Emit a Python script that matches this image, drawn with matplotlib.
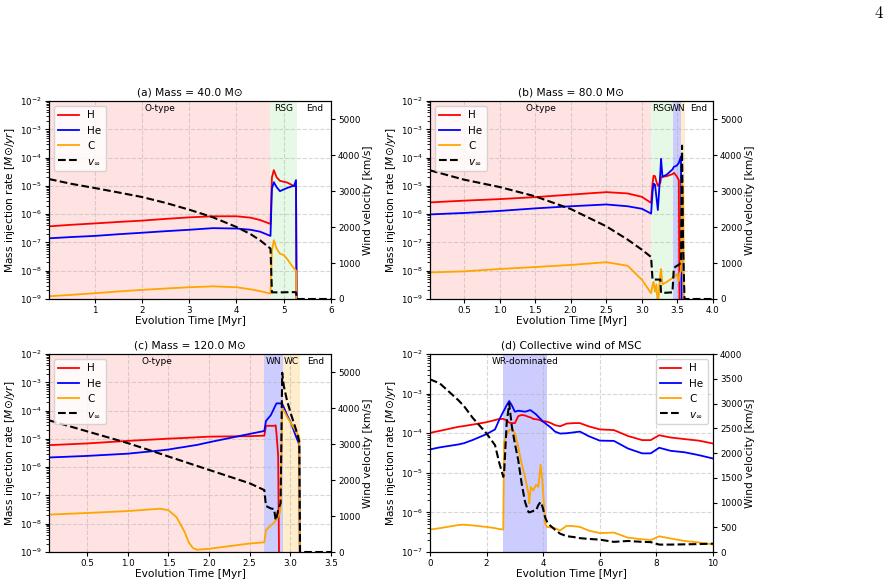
import matplotlib
matplotlib.use('Agg')
import matplotlib.pyplot as plt

# ---- data ------------------------------------------------------------------
# (a) 40 Msun
t_a = [0.03, 0.5, 1.0, 1.5, 2.0, 2.5, 3.0, 3.5, 4.0, 4.3, 4.5, 4.72, 4.75, 4.79,
       4.85, 4.92, 5.0, 5.08, 5.16, 5.22, 5.26, 5.28, 5.3, 6.0]
H_a = [3.7e-7, 4.2e-7, 4.7e-7, 5.3e-7, 5.9e-7, 6.8e-7, 7.7e-7, 8.4e-7, 8.4e-7, 7.5e-7,
       6.2e-7, 4.5e-7, 2.0e-5, 3.6e-5, 2.0e-5, 1.5e-5, 1.4e-5, 1.3e-5, 1.1e-5, 1.0e-5,
       9.5e-6, 1e-12, 1e-12, 1e-12]
He_a = [1.4e-7, 1.55e-7, 1.7e-7, 1.95e-7, 2.2e-7, 2.5e-7, 2.8e-7, 3.2e-7, 3.1e-7, 2.8e-7,
        2.4e-7, 1.7e-7, 8e-6, 1.35e-5, 9e-6, 6.5e-6, 7.5e-6, 8.5e-6, 9.5e-6, 1.0e-5,
        1.6e-5, 1e-12, 1e-12, 1e-12]
C_a = [1.25e-9, 1.4e-9, 1.6e-9, 1.85e-9, 2.1e-9, 2.35e-9, 2.6e-9, 2.8e-9, 2.6e-9, 2.2e-9,
       1.9e-9, 1.55e-9, 5e-8, 1.2e-7, 6e-8, 4e-8, 3.6e-8, 2.5e-8, 1.6e-8, 1.2e-8,
       1e-8, 1e-12, 1e-12, 1e-12]
v_a = [3333, 3200, 3083, 2960, 2833, 2670, 2481, 2270, 2000, 1800, 1630, 1400, 185, 185,
       185, 185, 185, 190, 190, 190, 185, 0, 0, 0]
phases_a = [('O-type', 0.03, 4.71), ('RSG', 4.71, 5.29), ('End', 5.29, 6.0)]

# (b) 80 Msun
t_b = [0.02, 0.5, 1.0, 1.5, 2.0, 2.5, 2.8, 3.0, 3.13, 3.15, 3.165, 3.185, 3.205, 3.225,
       3.26, 3.27, 3.29, 3.35, 3.43, 3.45, 3.49, 3.52, 3.535, 3.55, 3.565, 3.58, 3.6,
       3.62, 4.0]
H_b = [2.6e-6, 3.0e-6, 3.4e-6, 4.0e-6, 4.9e-6, 6.0e-6, 5.4e-6, 4.1e-6, 2.5e-6, 1.2e-5,
       2.3e-5, 2.2e-5, 1.4e-5, 1.0e-5, 1.3e-5, 1.9e-5, 2.1e-5, 2.2e-5, 2.6e-5, 2.9e-5,
       2.2e-5, 1.6e-5, 1e-12, 1e-12, 1e-12, 1e-12, 1e-12, 1e-12, 1e-12]
He_b = [9.8e-7, 1.1e-6, 1.3e-6, 1.6e-6, 1.9e-6, 2.2e-6, 1.9e-6, 1.55e-6, 1.05e-6, 6e-6,
        1.2e-5, 1.1e-5, 4e-6, 1.4e-6, 3e-5, 9e-5, 2.1e-5, 2.5e-5, 3.8e-5, 4.7e-5,
        5.2e-5, 6.5e-5, 8.5e-5, 1.1e-4, 1e-12, 1e-12, 1e-12, 1e-12, 1e-12]
C_b = [8.7e-9, 9.5e-9, 1.15e-8, 1.35e-8, 1.6e-8, 2.0e-8, 1.5e-8, 4.8e-9, 1.6e-9, 3e-9,
       4e-9, 1.8e-9, 3.3e-9, 5e-10, 8e-9, 1.15e-8, 3.3e-9, 4e-9, 5.5e-9, 6e-9,
       7.5e-9, 4.3e-9, 8e-9, 1e-8, 2e-5, 5e-6, 1e-12, 1e-12, 1e-12]
v_b = [3574, 3315, 3111, 2852, 2500, 2019, 1650, 1370, 1167, 540, 540, 540, 540, 540,
       540, 170, 170, 175, 185, 860, 920, 950, 980, 1000, 4260, 1500, 0, 0, 0]
phases_b = [('O-type', 0.02, 3.13), ('RSG', 3.13, 3.44), ('WN', 3.44, 3.55),
            ('WC', 3.55, 3.61), ('End', 3.61, 4.0)]

# (c) 120 Msun
t_c = [0.03, 0.5, 1.0, 1.4, 1.5, 1.6, 1.7, 1.75, 1.8, 1.85, 2.0, 2.5, 2.68, 2.7, 2.76,
       2.8, 2.82, 2.83, 2.85, 2.87, 2.88, 2.9, 2.92, 2.96, 3.01, 3.07, 3.11, 3.12, 3.14, 3.5]
H_c = [6e-6, 6.9e-6, 8.5e-6, 9.8e-6, 1.02e-5, 1.05e-5, 1.08e-5, 1.1e-5, 1.12e-5, 1.14e-5,
       1.2e-5, 1.25e-5, 1.3e-5, 2.9e-5, 2.9e-5, 2.9e-5, 3.0e-5, 1.5e-5, 2.6e-6, 1e-12,
       1e-12, 1e-12, 1e-12, 1e-12, 1e-12, 1e-12, 1e-12, 1e-12, 1e-12, 1e-12]
He_c = [2.2e-6, 2.5e-6, 3.0e-6, 3.9e-6, 4.2e-6, 4.7e-6, 5.2e-6, 5.5e-6, 5.8e-6, 6.1e-6,
        7.6e-6, 1.5e-5, 1.9e-5, 4.3e-5, 6.9e-5, 1.2e-4, 1.6e-4, 1.8e-4, 1.8e-4, 1.8e-4,
        1.8e-4, 1.75e-4, 1.3e-4, 6.9e-5, 3.5e-5, 1.2e-5, 6.3e-6, 1e-12, 1e-12, 1e-12]
C_c = [2.1e-8, 2.4e-8, 2.8e-8, 3.4e-8, 3.0e-8, 1.7e-8, 5.1e-9, 2.2e-9, 1.4e-9, 1.2e-9,
       1.3e-9, 2.0e-9, 2.2e-9, 5.9e-9, 8.7e-9, 1.1e-8, 1.3e-8, 1.5e-8, 1.8e-8, 2.4e-8,
       3.4e-8, 1.2e-4, 1.0e-4, 6e-5, 3.5e-5, 1.8e-5, 1.2e-5, 1e-12, 1e-12, 1e-12]
v_c = [3659, 3352, 3026, 2730, 2653, 2580, 2505, 2468, 2430, 2393, 2281, 1909, 1720, 1280,
       1210, 1192, 885, 950, 1160, 1300, 1350, 4980, 4608, 4200, 3817, 3398, 3072, 0, 0, 0]
phases_c = [('O-type', 0.03, 2.68), ('WN', 2.68, 2.91), ('WC', 2.91, 3.12), ('End', 3.12, 3.5)]

# (d) collective wind
t_d = [0.0, 0.35, 1.0, 1.2, 1.5, 2.0, 2.3, 2.45, 2.59, 2.62, 2.71, 2.8, 2.89, 3.0, 3.12,
       3.24, 3.36, 3.48, 3.51, 3.56, 3.65, 3.75, 3.83, 3.91, 3.98, 4.07, 4.13, 4.24, 4.42,
       4.6, 4.83, 5.07, 5.3, 5.6, 6.0, 6.5, 7.0, 7.5, 7.8, 8.1, 8.5, 9.0, 9.5, 10.0]
H_d = [1.02e-4, 1.15e-4, 1.45e-4, 1.52e-4, 1.65e-4, 1.9e-4, 2.15e-4, 2.3e-4, 2.3e-4, 2.25e-4,
       2.1e-4, 1.85e-4, 1.8e-4, 1.8e-4, 2.7e-4, 2.9e-4, 2.8e-4, 2.6e-4, 2.55e-4, 2.5e-4,
       2.3e-4, 2.25e-4, 2.2e-4, 2.1e-4, 2.0e-4, 2.0e-4, 1.95e-4, 1.85e-4, 1.6e-4, 1.5e-4,
       1.75e-4, 1.8e-4, 1.8e-4, 1.5e-4, 1.25e-4, 1.2e-4, 8.5e-5, 6.7e-5, 6.7e-5, 8.9e-5,
       7.8e-5, 7.1e-5, 6.5e-5, 5.5e-5]
He_d = [3.9e-5, 4.4e-5, 5.2e-5, 5.6e-5, 6.7e-5, 9.5e-5, 1.25e-4, 2.2e-4, 3.5e-4, 3.8e-4,
        5.1e-4, 6.5e-4, 5.1e-4, 3.5e-4, 3.7e-4, 3.6e-4, 3.5e-4, 3.7e-4, 3.8e-4, 3.8e-4,
        3.4e-4, 3.0e-4, 2.6e-4, 2.3e-4, 2.0e-4, 1.8e-4, 1.65e-4, 1.45e-4, 1.1e-4, 9.8e-5,
        1.0e-4, 1.05e-4, 1.1e-4, 8.5e-5, 6.5e-5, 6.4e-5, 4.1e-5, 3.1e-5, 3.1e-5, 4.3e-5,
        3.6e-5, 3.3e-5, 2.8e-5, 2.3e-5]
C_d = [3.7e-7, 4.0e-7, 4.8e-7, 4.9e-7, 4.7e-7, 4.3e-7, 4.0e-7, 3.8e-7, 3.7e-7, 6e-5,
       9e-5, 1.2e-4, 1.3e-4, 1.0e-4, 4.5e-5, 1.7e-5, 7.9e-6, 3e-6, 1.7e-6, 4.4e-6,
       3.6e-6, 5e-6, 4.4e-6, 1.6e-5, 5.3e-6, 5.3e-7, 4.3e-7, 4.2e-7, 4.0e-7, 3.5e-7,
       4.6e-7, 4.5e-7, 4.3e-7, 3.5e-7, 3.0e-7, 3.1e-7, 2.3e-7, 2.1e-7, 2.0e-7, 2.5e-7,
       2.2e-7, 1.9e-7, 1.75e-7, 1.55e-7]
v_d = [3490, 3406, 3069, 2950, 2718, 2394, 2158, 1800, 1518, 1600, 2600, 3002, 2550, 2192,
       1855, 1383, 1012, 809, 800, 810, 830, 843, 950, 1012, 910, 700, 620, 540, 450, 370,
       320, 303, 280, 265, 250, 205, 223, 205, 200, 150, 150, 155, 160, 169]
phases_d = [('WR-dominated', 2.59, 4.12)]

phase_style = {'O-type': ('red', 0.11), 'RSG': ('limegreen', 0.12),
               'WN': ('blue', 0.2), 'WC': ('orange', 0.2),
               'WR-dominated': ('blue', 0.2), 'End': None}


def draw_panel(rect, t, H, He, C, v, phases, title, xlim, ylim, vmax, loc):
    ax = fig.add_axes(rect)
    for name, x0, x1 in phases:
        if phase_style[name] is not None:
            col, al = phase_style[name]
            ax.axvspan(x0, x1, color=col, alpha=al, lw=0)
        if x1 - x0 > 0.08:
            ax.text((x0 + x1) / 2, 0.985, name, transform=ax.get_xaxis_transform(),
                    ha='center', va='top', fontsize=6.5)
    lH, = ax.plot(t, H, color='red', lw=1.3, label='H')
    lHe, = ax.plot(t, He, color='blue', lw=1.3, label='He')
    lC, = ax.plot(t, C, color='orange', lw=1.3, label='C')
    ax.set_yscale('log')
    ax.set_ylim(*ylim)
    ax.set_xlim(*xlim)
    ax.grid(True, linestyle='--', alpha=0.5)
    ax.set_xlabel('Evolution Time [Myr]', fontsize=7.7, labelpad=1)
    ax.set_ylabel(r'Mass injection rate [$M{\odot}/yr$]', fontsize=7.7, labelpad=2)
    ax.set_title(title, fontsize=7.7, pad=4)
    ax.tick_params(labelsize=6.3, length=3, pad=2)

    ax2 = ax.twinx()
    lv, = ax2.plot(t, v, color='black', ls='--', lw=1.5, label=r'$v_\infty$')
    ax2.set_ylim(0, vmax)
    ax2.set_ylabel('Wind velocity [km/s]', fontsize=7.7, labelpad=2)
    ax2.tick_params(labelsize=6.3, length=3, pad=2)
    ax2.legend(handles=[lH, lHe, lC, lv], loc=loc, fontsize=7.5)
    return ax


fig = plt.figure(figsize=(8.95, 5.88), dpi=100)

draw_panel([0.0547, 0.4915, 0.3151, 0.3367], t_a, H_a, He_a, C_a, v_a, phases_a,
           '(a) Mass = 40.0 M⊙', (t_a[0], 6.0), (1e-9, 1e-2), 5500, 'upper left')
draw_panel([0.4804, 0.4915, 0.3162, 0.3367], t_b, H_b, He_b, C_b, v_b, phases_b,
           '(b) Mass = 80.0 M⊙', (t_b[0], 4.0), (1e-9, 1e-2), 5500, 'upper left')
draw_panel([0.0547, 0.0612, 0.3151, 0.3367], t_c, H_c, He_c, C_c, v_c, phases_c,
           '(c) Mass = 120.0 M⊙', (t_c[0], 3.5), (1e-9, 1e-2), 5500, 'upper left')
draw_panel([0.4804, 0.0612, 0.3162, 0.3367], t_d, H_d, He_d, C_d, v_d, phases_d,
           '(d) Collective wind of MSC', (0, 10), (1e-7, 1e-2), 4000, 'upper right')

fig.text(0.987, 0.977, '4', fontname='cmr10', fontsize=12, ha='right', va='center')

fig.savefig('out.png', dpi=100)
